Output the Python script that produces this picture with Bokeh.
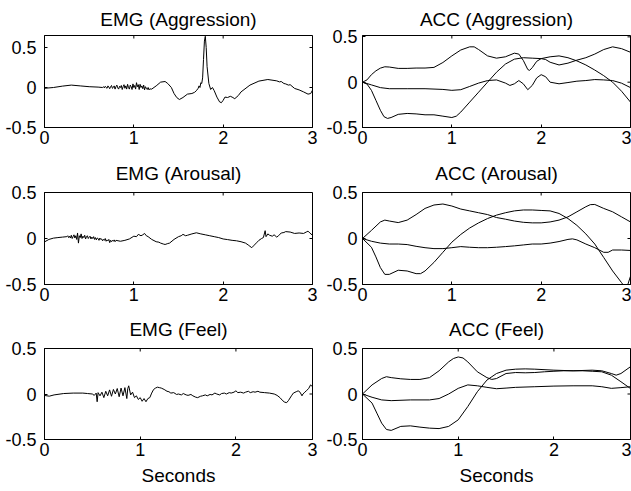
import math
from bokeh.plotting import figure
from bokeh.models import FixedTicker, Range1d, NumeralTickFormatter
from bokeh.layouts import column, row
from bokeh.embed import file_html
from bokeh.resources import INLINE

FONT = "Liberation Sans"

# ---------------- data (time in seconds, value) ----------------
xticks_full = [0, 1, 2, 3]
xtick_labels_full = ["0", "1", "2", "3"]
xticks_short = [0, 1, 2, 2.8]
xtick_labels_short = ["0", "1", "2", "3"]
yticks = [-0.5, 0, 0.5]

emg_aggression = [
    (0.00, -0.01), (0.10, 0.0), (0.20, 0.017), (0.30, 0.03), (0.40, 0.02), (0.50, 0.01), (0.60, 0.005),
    (0.65, 0.00), (0.66, 0.01), (0.67, -0.005), (0.68, 0.015), (0.69, 0.0), (0.70, -0.01), (0.71, 0.02),
    (0.72, 0.005), (0.73, -0.015), (0.74, 0.01), (0.75, 0.025), (0.76, -0.01), (0.77, 0.0), (0.78, 0.02),
    (0.79, -0.02), (0.80, 0.01), (0.81, 0.03), (0.82, -0.005), (0.83, -0.02), (0.84, 0.015), (0.85, 0.0),
    (0.86, 0.025), (0.87, -0.025), (0.88, 0.01), (0.89, 0.035), (0.90, -0.01), (0.91, 0.02), (0.92, -0.02),
    (0.93, 0.04), (0.94, 0.0), (0.95, -0.02), (0.96, 0.03), (0.97, 0.01), (0.98, -0.025), (0.99, 0.045),
    (1.00, 0.0), (1.01, 0.025), (1.02, -0.02), (1.03, 0.06), (1.04, 0.01), (1.05, 0.035), (1.06, -0.025),
    (1.07, 0.04), (1.08, 0.0), (1.09, 0.02), (1.10, -0.015), (1.11, 0.03), (1.12, -0.03), (1.13, 0.01),
    (1.14, -0.01), (1.15, -0.025), (1.16, 0.0), (1.17, -0.03), (1.18, -0.015), (1.19, -0.02), (1.20, -0.02),
    (1.25, 0.02), (1.30, 0.067), (1.35, 0.075), (1.38, 0.05), (1.42, 0.0), (1.45, -0.075), (1.48, -0.125),
    (1.51, -0.15), (1.55, -0.125), (1.60, -0.083), (1.65, -0.075), (1.68, -0.06), (1.70, -0.04),
    (1.72, -0.01), (1.73, 0.02), (1.74, 0.0), (1.75, 0.06), (1.76, 0.05), (1.77, 0.12), (1.78, 0.35),
    (1.79, 0.58), (1.80, 0.64), (1.81, 0.5), (1.82, 0.26), (1.84, 0.05), (1.86, -0.025), (1.88, 0.0),
    (1.90, -0.04), (1.93, -0.12), (1.96, -0.18), (1.98, -0.19), (2.00, -0.16), (2.02, -0.12),
    (2.05, -0.125), (2.08, -0.11), (2.10, -0.12), (2.13, -0.14), (2.17, -0.1), (2.20, -0.055),
    (2.30, 0.03), (2.40, 0.08), (2.50, 0.1), (2.60, 0.083), (2.63, 0.07), (2.65, 0.075), (2.68, 0.05),
    (2.70, 0.045), (2.73, 0.03), (2.75, 0.035), (2.80, -0.012), (2.85, -0.03), (2.90, -0.055),
    (2.95, -0.083), (2.98, -0.075), (3.00, -0.033),
]

emg_arousal = [
    (0.00, -0.037), (0.05, -0.01), (0.10, 0.004), (0.15, 0.01), (0.20, 0.015),
    (0.25, 0.02), (0.26, 0.03), (0.27, 0.01), (0.28, 0.025), (0.29, 0.005), (0.30, 0.035), (0.31, 0.0),
    (0.32, 0.02), (0.33, 0.04), (0.34, 0.005), (0.35, 0.03), (0.36, -0.01), (0.37, 0.06), (0.38, -0.05),
    (0.39, 0.03), (0.40, 0.01), (0.41, 0.05), (0.42, 0.0), (0.43, 0.025), (0.44, 0.01), (0.45, 0.035),
    (0.46, -0.005), (0.47, 0.02), (0.48, 0.03), (0.49, 0.0), (0.50, 0.015), (0.51, 0.025), (0.52, -0.005),
    (0.53, 0.015), (0.54, 0.0), (0.55, 0.02), (0.56, -0.01), (0.57, 0.01), (0.58, -0.015), (0.59, 0.005),
    (0.60, 0.0), (0.61, -0.02), (0.62, 0.005), (0.63, -0.01), (0.64, -0.005), (0.65, -0.025), (0.66, -0.01),
    (0.67, -0.02), (0.68, 0.0), (0.69, -0.03), (0.70, -0.015), (0.71, -0.025), (0.72, -0.01),
    (0.73, -0.045), (0.74, -0.02), (0.75, -0.035), (0.76, -0.02), (0.77, -0.03), (0.78, -0.015),
    (0.79, -0.035), (0.80, -0.02),
    (0.85, -0.03), (0.90, -0.02), (0.95, -0.005), (1.00, 0.025), (1.03, 0.02), (1.05, 0.045),
    (1.08, 0.03), (1.10, 0.04), (1.12, 0.055), (1.14, 0.03), (1.16, 0.02), (1.20, -0.01), (1.25, -0.035),
    (1.28, -0.04), (1.30, -0.05), (1.33, -0.06), (1.35, -0.065), (1.38, -0.055), (1.40, -0.05),
    (1.45, -0.01), (1.50, 0.02), (1.53, 0.03), (1.55, 0.045), (1.58, 0.03), (1.60, 0.035), (1.65, 0.05),
    (1.70, 0.062), (1.75, 0.05), (1.80, 0.04), (1.85, 0.03), (1.90, 0.02), (1.95, 0.01), (2.00, -0.005),
    (2.05, -0.012), (2.10, -0.02), (2.15, -0.025), (2.20, -0.035), (2.25, -0.05), (2.28, -0.07),
    (2.30, -0.085), (2.32, -0.1), (2.34, -0.08), (2.36, -0.06), (2.38, -0.04), (2.40, -0.02),
    (2.43, 0.0), (2.45, 0.01), (2.47, 0.085), (2.48, 0.02), (2.50, 0.05), (2.52, 0.035), (2.55, 0.025),
    (2.57, 0.04), (2.60, 0.015), (2.62, 0.03), (2.65, 0.06), (2.68, 0.065), (2.70, 0.075), (2.75, 0.07),
    (2.80, 0.055), (2.85, 0.06), (2.90, 0.055), (2.93, 0.07), (2.95, 0.08), (2.97, 0.06), (3.00, 0.035),
]

emg_feel = [
    (0.00, -0.016), (0.05, -0.024), (0.10, -0.01), (0.20, 0.005), (0.30, 0.01), (0.40, 0.01), (0.45, 0.005),
    (0.50, 0.0), (0.52, -0.015), (0.54, 0.01), (0.55, -0.085), (0.56, 0.015), (0.58, -0.02), (0.60, 0.02),
    (0.62, -0.04), (0.64, 0.03), (0.66, -0.02), (0.68, 0.045), (0.70, -0.025), (0.72, 0.05), (0.74, 0.0),
    (0.76, 0.06), (0.78, -0.03), (0.80, 0.065), (0.82, -0.02), (0.84, 0.07), (0.86, -0.05), (0.87, 0.06),
    (0.88, 0.09), (0.90, -0.01), (0.92, 0.02), (0.94, -0.04), (0.96, -0.02), (0.98, -0.06), (1.00, -0.04),
    (1.02, -0.08), (1.04, -0.05), (1.06, -0.085), (1.08, -0.05), (1.10, -0.04),
    (1.12, 0.01), (1.14, 0.05), (1.16, 0.065),
    (1.18, 0.075), (1.20, 0.07), (1.22, 0.065), (1.25, 0.05), (1.28, 0.03), (1.30, 0.025), (1.32, 0.01),
    (1.35, 0.015), (1.38, -0.005), (1.40, 0.0), (1.43, -0.01), (1.45, 0.005), (1.48, -0.01), (1.50, -0.015),
    (1.53, -0.005), (1.55, -0.02), (1.58, -0.035), (1.60, -0.04), (1.63, -0.025), (1.65, -0.02),
    (1.68, -0.01), (1.70, -0.02), (1.73, -0.005), (1.75, -0.01), (1.78, 0.01), (1.80, 0.0), (1.83, -0.01),
    (1.85, 0.005), (1.88, 0.01), (1.90, 0.0), (1.93, 0.015), (1.95, 0.01), (1.98, 0.02), (2.00, 0.035),
    (2.02, 0.015), (2.05, 0.02), (2.08, 0.01), (2.10, 0.02), (2.13, 0.03), (2.15, 0.015), (2.18, 0.025),
    (2.20, 0.02), (2.23, 0.03), (2.25, 0.02), (2.30, 0.015), (2.35, 0.01), (2.40, 0.0), (2.43, -0.015),
    (2.46, -0.04), (2.49, -0.075), (2.51, -0.09), (2.53, -0.095), (2.55, -0.07), (2.58, -0.02), (2.60, 0.01),
    (2.63, 0.025), (2.65, 0.035), (2.67, 0.02), (2.69, -0.02), (2.70, 0.0), (2.72, 0.02), (2.74, 0.04),
    (2.76, 0.06), (2.78, 0.1), (2.80, 0.08),
]

acc_aggression_1 = [
    (0, 0), (0.05, 0.025), (0.1, 0.083), (0.15, 0.125), (0.2, 0.155), (0.25, 0.17), (0.3, 0.167),
    (0.4, 0.152), (0.5, 0.152), (0.6, 0.156), (0.7, 0.156), (0.8, 0.163), (0.9, 0.217), (1.0, 0.29),
    (1.1, 0.355), (1.2, 0.39), (1.25, 0.39), (1.3, 0.36), (1.4, 0.29), (1.5, 0.265), (1.6, 0.28),
    (1.7, 0.32), (1.75, 0.31), (1.8, 0.24), (1.85, 0.14), (1.87, 0.13), (1.9, 0.16), (1.95, 0.23),
    (2.0, 0.26), (2.05, 0.25), (2.1, 0.22), (2.2, 0.19), (2.3, 0.21), (2.4, 0.243), (2.5, 0.27),
    (2.6, 0.31), (2.7, 0.36), (2.8, 0.39), (2.9, 0.37), (3.0, 0.33),
]
acc_aggression_2 = [
    (0, 0), (0.05, -0.02), (0.1, -0.09), (0.15, -0.2), (0.2, -0.31), (0.24, -0.38), (0.28, -0.4),
    (0.32, -0.39), (0.4, -0.355), (0.5, -0.345), (0.6, -0.35), (0.7, -0.36), (0.8, -0.36), (0.9, -0.375),
    (1.0, -0.39), (1.05, -0.375), (1.1, -0.33), (1.2, -0.22), (1.3, -0.11), (1.4, 0.0), (1.5, 0.11),
    (1.6, 0.2), (1.7, 0.254), (1.8, 0.27), (1.9, 0.265), (2.0, 0.26), (2.1, 0.28), (2.2, 0.29),
    (2.3, 0.27), (2.4, 0.235), (2.5, 0.19), (2.6, 0.134), (2.7, 0.072), (2.8, 0.0), (2.9, -0.1),
    (3.0, -0.22),
]
acc_aggression_3 = [
    (0, 0), (0.1, -0.03), (0.2, -0.06), (0.3, -0.072), (0.5, -0.072), (0.7, -0.072), (0.9, -0.08),
    (1.0, -0.09), (1.1, -0.083), (1.2, -0.047), (1.3, -0.01), (1.4, 0.018), (1.5, 0.025), (1.6, -0.01),
    (1.65, -0.036), (1.7, -0.018), (1.75, 0.018), (1.8, -0.018), (1.85, -0.083), (1.9, -0.036),
    (1.95, 0.047), (2.0, 0.083), (2.05, 0.06), (2.1, 0.0), (2.2, -0.018), (2.3, -0.004), (2.4, 0.011),
    (2.5, 0.018), (2.6, 0.029), (2.7, 0.025), (2.8, 0.018), (2.9, -0.011), (3.0, -0.06),
]

acc_arousal_1 = [
    (0, 0), (0.1, 0.088), (0.2, 0.18), (0.25, 0.2), (0.3, 0.19), (0.4, 0.173), (0.5, 0.2), (0.6, 0.26),
    (0.7, 0.327), (0.8, 0.364), (0.9, 0.375), (1.0, 0.353), (1.1, 0.32), (1.2, 0.3), (1.3, 0.28),
    (1.4, 0.26), (1.5, 0.228), (1.6, 0.21), (1.7, 0.19), (1.8, 0.176), (1.9, 0.17), (2.0, 0.17),
    (2.1, 0.18), (2.2, 0.2), (2.3, 0.235), (2.4, 0.29), (2.5, 0.345), (2.55, 0.368), (2.6, 0.37),
    (2.7, 0.327), (2.8, 0.29), (2.9, 0.235), (3.0, 0.18),
]
acc_arousal_2 = [
    (0, 0), (0.1, -0.095), (0.15, -0.2), (0.2, -0.316), (0.25, -0.39), (0.3, -0.39), (0.4, -0.345),
    (0.5, -0.353), (0.6, -0.382), (0.65, -0.382), (0.7, -0.353), (0.8, -0.26), (0.9, -0.15), (1.0, -0.04),
    (1.1, 0.044), (1.2, 0.114), (1.3, 0.17), (1.4, 0.217), (1.5, 0.254), (1.6, 0.28), (1.7, 0.3),
    (1.8, 0.31), (1.9, 0.31), (2.0, 0.305), (2.1, 0.3), (2.2, 0.272), (2.3, 0.217), (2.4, 0.143),
    (2.5, 0.05), (2.6, -0.06), (2.7, -0.206), (2.8, -0.353), (2.9, -0.48), (2.93, -0.52), (2.97, -0.5),
    (3.0, -0.41),
]
acc_arousal_3 = [
    (0, 0), (0.1, -0.03), (0.2, -0.05), (0.3, -0.06), (0.4, -0.06), (0.5, -0.066), (0.6, -0.085),
    (0.7, -0.1), (0.8, -0.11), (0.9, -0.11), (1.0, -0.1), (1.1, -0.088), (1.2, -0.095), (1.3, -0.1),
    (1.4, -0.1), (1.5, -0.095), (1.6, -0.088), (1.7, -0.08), (1.8, -0.07), (1.9, -0.06), (2.0, -0.06),
    (2.1, -0.05), (2.2, -0.033), (2.3, -0.01), (2.35, -0.004), (2.4, -0.015), (2.5, -0.06), (2.6, -0.1),
    (2.7, -0.15), (2.75, -0.15), (2.8, -0.125), (2.9, -0.125), (3.0, -0.13),
]

acc_feel_1 = [
    (0, 0), (0.1, 0.1), (0.2, 0.17), (0.25, 0.19), (0.3, 0.18), (0.4, 0.167), (0.5, 0.16), (0.6, 0.16),
    (0.7, 0.18), (0.8, 0.255), (0.9, 0.353), (0.95, 0.39), (1.0, 0.407), (1.05, 0.396), (1.1, 0.353),
    (1.2, 0.244), (1.3, 0.18), (1.35, 0.16), (1.4, 0.17), (1.5, 0.225), (1.6, 0.236), (1.7, 0.233),
    (1.8, 0.236), (1.9, 0.244), (2.0, 0.25), (2.1, 0.255), (2.2, 0.255), (2.3, 0.255), (2.4, 0.25),
    (2.5, 0.244), (2.6, 0.207), (2.7, 0.135), (2.8, 0.06),
]
acc_feel_2 = [
    (0, 0), (0.1, -0.1), (0.15, -0.21), (0.2, -0.32), (0.25, -0.39), (0.3, -0.4), (0.4, -0.356),
    (0.5, -0.35), (0.6, -0.364), (0.7, -0.375), (0.8, -0.38), (0.9, -0.356), (1.0, -0.284),
    (1.1, -0.138), (1.2, 0.025), (1.3, 0.153), (1.4, 0.225), (1.5, 0.262), (1.6, 0.273), (1.7, 0.276),
    (1.8, 0.273), (2.0, 0.262), (2.2, 0.255), (2.4, 0.262), (2.5, 0.255), (2.6, 0.225), (2.65, 0.207),
    (2.7, 0.225), (2.8, 0.3),
]
acc_feel_3 = [
    (0, 0), (0.1, -0.036), (0.2, -0.065), (0.3, -0.073), (0.5, -0.065), (0.7, -0.065), (0.8, -0.05),
    (0.9, 0.0), (1.0, 0.062), (1.1, 0.1), (1.2, 0.09), (1.3, 0.073), (1.4, 0.058), (1.5, 0.065),
    (1.6, 0.073), (1.8, 0.08), (2.0, 0.087), (2.2, 0.09), (2.4, 0.09), (2.5, 0.08), (2.6, 0.062),
    (2.7, 0.07), (2.8, 0.08),
]


def make(title, series, x_end, y_range, xt, xlab, w, h, bl, br, bt, bb, tstand, ystand, xlabel=None):
    y0, y1 = y_range
    p = figure(width=w, height=h, x_range=Range1d(0, x_end), y_range=Range1d(y0, y1),
               output_backend="svg", toolbar_location=None,
               min_border_left=bl, min_border_right=br, min_border_top=bt, min_border_bottom=bb,
               title=title)
    p.title.align = "center"
    p.title.text_font = FONT
    p.title.text_font_size = "19px"
    p.title.text_font_style = "normal"
    p.title.text_color = "black"
    p.title.standoff = tstand
    p.xgrid.visible = False
    p.ygrid.visible = False
    p.outline_line_color = "black"
    p.outline_line_alpha = 1
    p.background_fill_color = "white"
    p.border_fill_color = "white"

    bx = p.below[0]
    ly = p.left[0]
    for ax in (bx, ly):
        ax.major_tick_in = 3
        ax.major_tick_out = 0
        ax.minor_tick_line_color = None
        ax.axis_line_color = "black"
        ax.major_tick_line_color = "black"
        ax.major_label_text_font = FONT
        ax.major_label_text_font_size = "18px"
        ax.major_label_text_color = "black"
    bx.ticker = FixedTicker(ticks=xt)
    bx.major_label_overrides = {t: s for t, s in zip(xt, xlab)}
    bx.major_label_standoff = 3
    ly.ticker = FixedTicker(ticks=yticks)
    ly.formatter = NumeralTickFormatter(format="0.[0]")
    ly.major_label_standoff = ystand
    if xlabel:
        bx.axis_label = xlabel
        bx.axis_label_text_font = FONT
        bx.axis_label_text_font_size = "19px"
        bx.axis_label_text_font_style = "normal"
        bx.axis_label_text_color = "black"
        bx.axis_label_standoff = 6

    # small inward tick marks on the top and right frame edges (MATLAB "box on")
    p.ray(x=list(xt), y=[y1] * len(xt), length=3, angle=-math.pi / 2,
          length_units="screen", line_color="black", line_width=1)
    p.ray(x=[x_end] * len(yticks), y=list(yticks), length=3, angle=math.pi,
          length_units="screen", line_color="black", line_width=1)

    for s in series:
        t, v = zip(*s)
        p.line(list(t), list(v), line_color="black", line_width=1)
    return p


# left figure: frame 44..312 ; right figure: frame 362..630 ; total 631 x 491
LW, RW = 323, 308
rows_spec = [
    ("EMG (Aggression)", [emg_aggression], "ACC (Aggression)",
     [acc_aggression_1, acc_aggression_2, acc_aggression_3],
     3, xticks_full, xtick_labels_full, (-0.5, 0.65), (-0.5, 0.515), 152, 35, 25, 12, None),
    ("EMG (Arousal)", [emg_arousal], "ACC (Arousal)",
     [acc_arousal_1, acc_arousal_2, acc_arousal_3],
     3, xticks_full, xtick_labels_full, (-0.5, 0.5), (-0.5, 0.5), 156, 40, 24, 17, None),
    ("EMG (Feel)", [emg_feel], "ACC (Feel)",
     [acc_feel_1, acc_feel_2, acc_feel_3],
     2.8, xticks_short, xtick_labels_short, (-0.5, 0.5), (-0.5, 0.5), 183, 40, 52, 17, "Seconds"),
]

rows = []
for (lt, ls, rt, rs, xe, xt, xl, lyr, ryr, h, bt, bb, ts, xlabel) in rows_spec:
    pl = make(lt, ls, xe, lyr, xt, xl, LW, h, 44, 11, bt, bb, ts, 8, xlabel)
    pr = make(rt, rs, xe, ryr, xt, xl, RW, h, 39, 1, bt, bb, ts, 5, xlabel)
    rows.append(row(pl, pr))

layout = column(*rows)
open("out.html", "w").write(file_html(layout, INLINE))
